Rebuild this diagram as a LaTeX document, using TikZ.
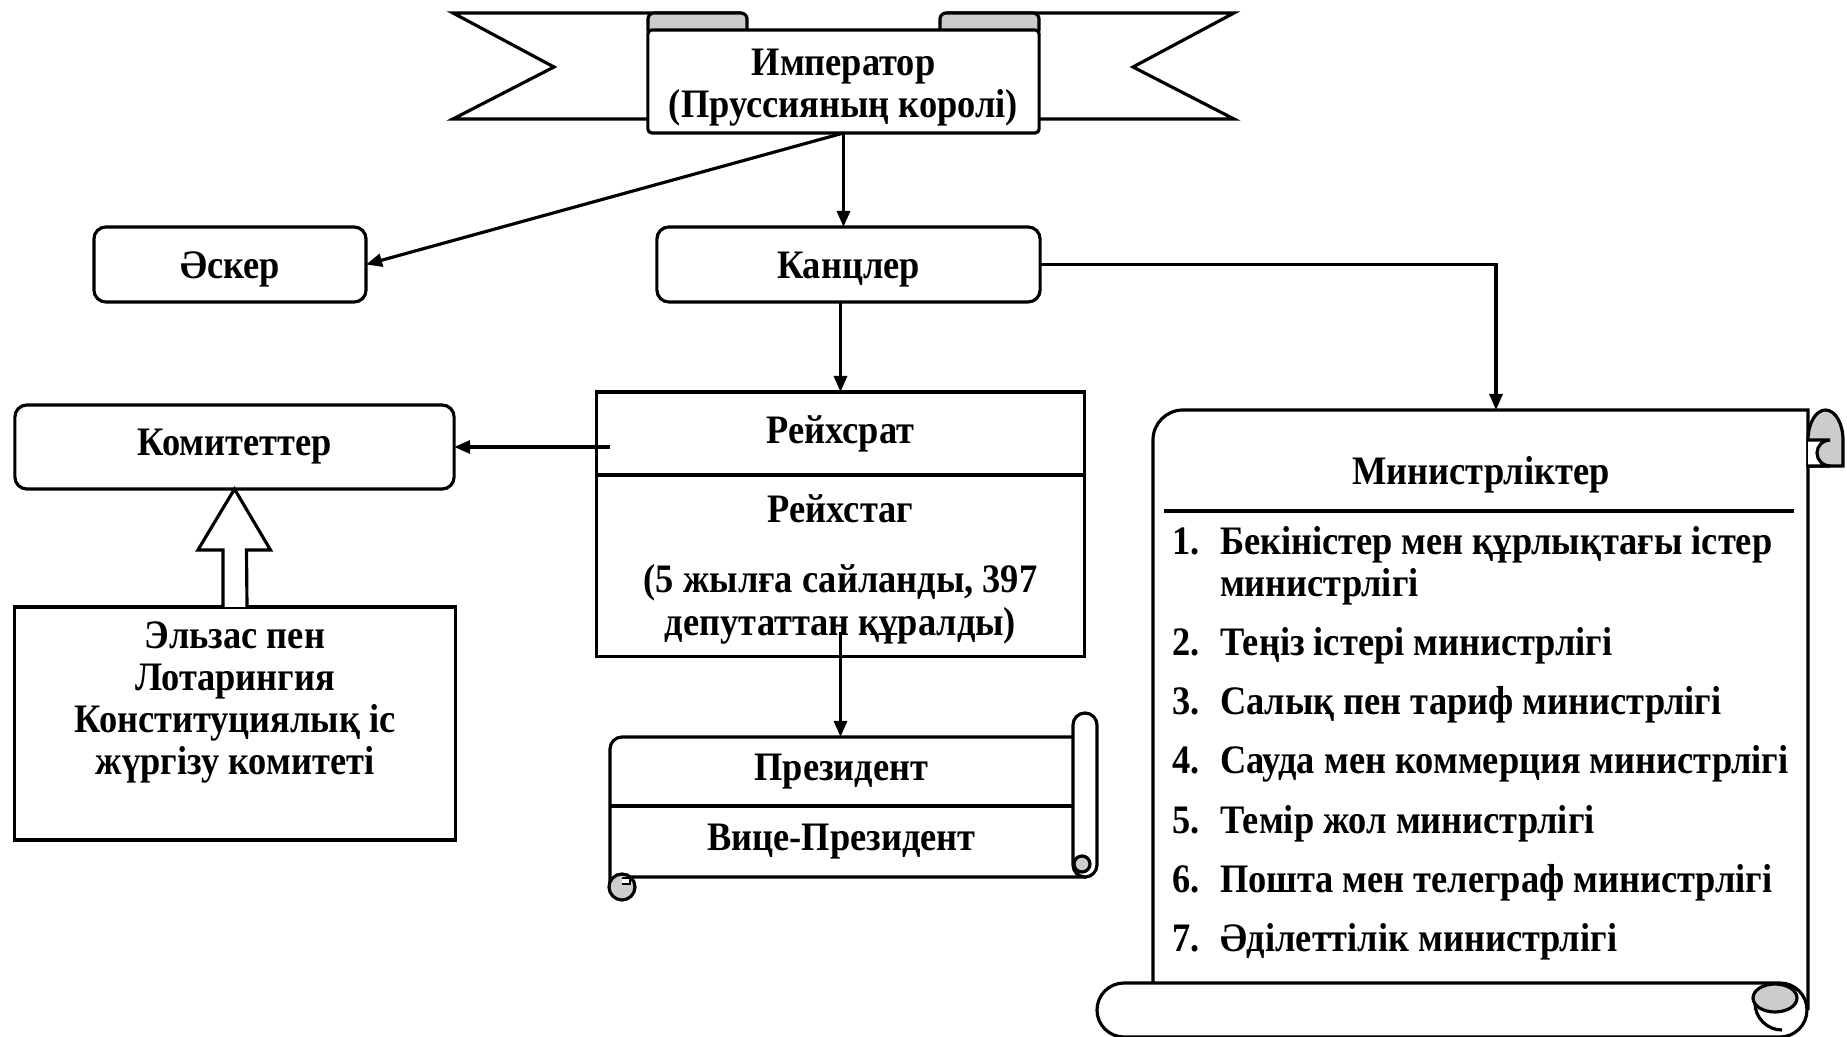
\documentclass[tikz,border=0pt]{standalone}
\usepackage{fontspec}
\setmainfont{Liberation Serif}[FakeStretch=0.9]
\usepackage{tikz}
\usetikzlibrary{positioning, arrows.meta}
\definecolor{surtus}{RGB}{204,204,204}

\begin{document}
\begin{tikzpicture}[
		x=0.01cm, y=-0.01cm,                    % 1 бірлік = 1 пиксель
		line width=0.9pt,
		>={Triangle[length=0.16cm,width=0.13cm]},
		node distance = 0pt,
		every node/.style = {
			align=center,
			inner sep=0pt,
			outer sep=0pt,
			font=\bfseries\fontsize{11.5}{12}\selectfont
		},
		kutu/.style = {
			rectangle,
			rounded corners=0.12cm,
			draw,
			fill=white,
			minimum height=0.75cm
		},
		tortbur/.style = {
			rectangle,
			draw,
			fill=white
		},
		birjol/.style = {
			text height=9pt,
			text depth=1.2pt
		}
		]
		\useasboundingbox (0,0) rectangle (1847,1037);
		
		% Лента - Император
		\draw[fill=white] (741,13) -- (453,13) -- (554,67) -- (453,119) -- (660,119);
		\draw[fill=white] (946,13) -- (1234,13) -- (1133,67) -- (1234,119) -- (1027,119);
		\draw[fill=surtus, rounded corners=0.06cm] (648,13) rectangle (747,36);
		\draw[fill=surtus, rounded corners=0.06cm] (940,13) rectangle (1039,36);
		\node[tortbur, rounded corners=0.04cm, minimum width=3.91cm, minimum height=1.03cm] (imp) at (843.5,81.5)
		{\rule{0pt}{11pt}Император\\(Пруссияның королі)};
		
		% Екінші қатар
		\node[kutu, birjol, minimum width=2.72cm] (asker) at (230,264.5) {Әскер};
		\node[kutu, birjol, minimum width=3.83cm] (kan) at (848.5,264.5) {Канцлер};
		
		% Рейхсрат пен Рейхстаг
		\node[tortbur, minimum width=4.87cm, minimum height=0.83cm] (reichsrat) at (840.5,433.5) {Рейхсрат};
		\node[tortbur, minimum width=4.87cm, minimum height=1.81cm, below=of reichsrat] (reichstag)
		{\rule{0pt}{10pt}Рейхстаг\\[8pt]
			(5 жылға сайланды, 397\\
			депутаттан құралды)};
		
		% Комитеттер - Сол жақ
		\node[kutu, minimum width=4.39cm, minimum height=0.84cm] (kom) at (234.5,447) {Комитеттер};
		\node[tortbur, minimum width=4.40cm, minimum height=2.33cm] (als) at (235,723.5)
		{Эльзас пен\\
			Лотарингия\\
			Конституциялық іс\\
			жүргізу комитеті\\[2.5pt]\mbox{}};
		
		% Президент - шиыршық
		\draw[fill=white] (610,890) -- (610,749) arc[start angle=180, end angle=270, radius=12] -- (1085,737) -- (1085,877) -- (622,877);
		\draw[fill=white, rounded corners=0.12cm] (1073,713) rectangle (1097,877);
		\draw[fill=surtus] (1082,864) circle[radius=8];
		\draw[fill=surtus] (622,887) circle[radius=13];
		\draw[fill=white, line width=0.6pt] (622,878) -- (630,878) -- (630,884) -- (622,884);
		\node[minimum width=4.63cm, minimum height=0.69cm] (pres) at (841.5,771.5) {Президент};
		\node[minimum width=4.63cm, minimum height=0.71cm, below=of pres] (vice) {Вице-Президент};
		\draw (pres.south west) -- (pres.south east);
		
		% Министрліктер - шиыршық
		\draw[fill=white] (1153,995) -- (1153,440) arc[start angle=180, end angle=270, radius=30] -- (1808,410) -- (1808,1010);
		\draw[fill=white, rounded corners=0.27cm] (1097,983) rectangle (1807,1037);
		\draw[fill=surtus] (1775,998) ellipse[x radius=22, y radius=14];
		\draw (1755,1003) arc[start angle=180, end angle=90, radius=27];
		\draw[fill=surtus] (1808,466) -- (1808,440) arc[start angle=180, end angle=360, x radius=17.5, y radius=30] -- (1843,466) -- cycle;
		\draw[fill=white] (1808,440) -- (1830,440) arc[start angle=270, end angle=90, radius=13] -- (1808,466);
		\coordinate (min-top) at (1496,410);
		\node[birjol] (min) at (1481,471) {Министрліктер};
		\draw (1164,511) -- (1794,511);
		\node[anchor=north west, align=left] (tizim) at (1172,525)
		{\begin{tabular}{@{}p{0.48cm}@{}l@{}}
				1. & Бекіністер мен құрлықтағы істер\\
				& министрлігі\\[4.8pt]
				2. & Теңіз істері министрлігі\\[4.8pt]
				3. & Салық пен тариф министрлігі\\[4.8pt]
				4. & Сауда мен коммерция министрлігі\\[4.8pt]
				5. & Темір жол министрлігі\\[4.8pt]
				6. & Пошта мен телеграф министрлігі\\[4.8pt]
				7. & Әділеттілік министрлігі
		\end{tabular}};
		
		% Байланыстар
		\draw[->] (imp.south) -- (imp.south |- kan.north);
		\draw[->] (imp.south) -- (asker.east);
		\draw[->] (kan.east) -| (min-top);
		\draw[->] (reichsrat.north |- kan.south) -- (reichsrat.north);
		\draw[->] ([xshift=0.13cm]reichsrat.west |- kom.east) -- (kom.east);
		\draw[->] ([yshift=0.24cm]reichstag.south) -- (reichstag.south |- pres.north);
		\draw[fill=white] ([xshift=-0.12cm]als.north) -- ++(0,-57) -- ++(-25,0) -- (kom.south) -- ++(36,61) -- ++(-24,0) -- ([xshift=0.12cm]als.north);
		
	\end{tikzpicture}
\end{document}
